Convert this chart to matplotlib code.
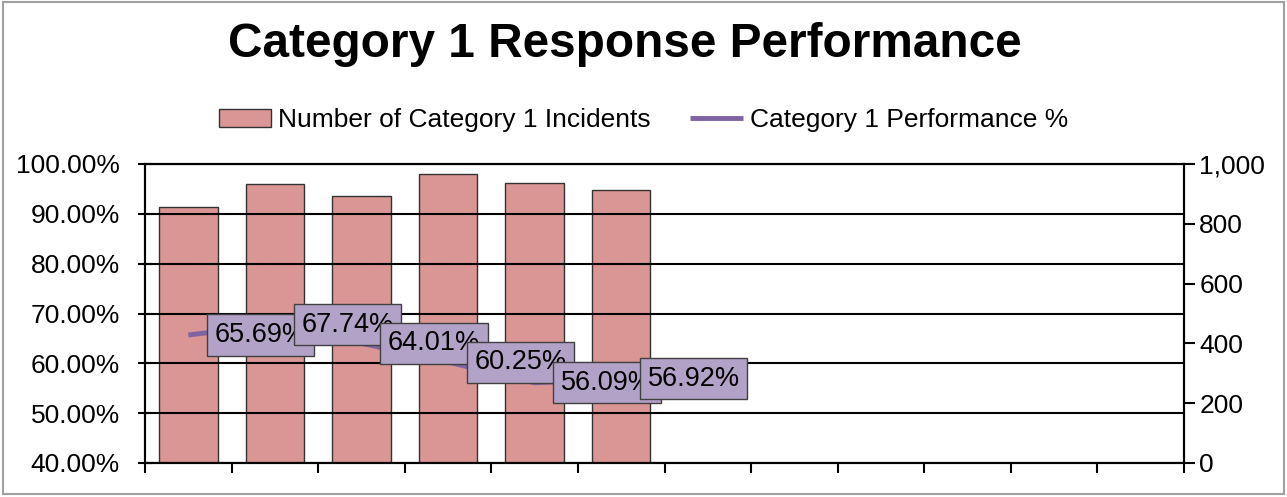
import matplotlib
matplotlib.use("Agg")
import matplotlib.pyplot as plt
from matplotlib.patches import Rectangle
from matplotlib.ticker import FuncFormatter, FixedLocator
import numpy as np

plt.rcParams['font.family'] = ['Liberation Sans', 'DejaVu Sans']

# ---- data ----
n_slots = 12
incidents = [855, 932, 894, 967, 937, 912]
performance = [65.69, 67.74, 64.01, 60.25, 56.09, 56.92]
perf_labels = ["65.69%", "67.74%", "64.01%", "60.25%", "56.09%", "56.92%"]
left_ticks = [40, 50, 60, 70, 80, 90, 100]
right_ticks = [0, 200, 400, 600, 800, 1000]
title = "Category 1 Response Performance"
bar_name = "Number of Category 1 Incidents"
line_name = "Category 1 Performance %"

W, H = 1287, 497
fig = plt.figure(figsize=(W / 100, H / 100), dpi=100)
ax = fig.add_axes([145 / W, 1 - 463 / H, (1184 - 145) / W, (463 - 164) / H])
ax2 = ax.twinx()

x = np.arange(len(incidents))
bar_color = '#D99694'
line_color = '#8064A2'

bars = ax.bar(x, incidents, width=0.676, color=bar_color, edgecolor='#333333',
              linewidth=1.0, zorder=1)
ax.set_xlim(-0.5, n_slots - 0.5)
ax.set_ylim(0, 1000)
ax.yaxis.tick_right()
ax.yaxis.set_major_locator(FixedLocator(right_ticks))
ax.yaxis.set_major_formatter(FuncFormatter(lambda v, p: f"{int(v):,}"))
ax.tick_params(axis='y', which='major', direction='out', length=8, width=1.5,
               labelsize=19, pad=3, right=True, left=False)
ax.set_xticks(np.arange(-0.5, n_slots, 1.0))
ax.set_xticklabels([])
ax.tick_params(axis='x', direction='out', length=7, width=1.5)

ax2.set_ylim(40, 100)
ax2.yaxis.tick_left()
ax2.yaxis.set_major_locator(FixedLocator(left_ticks))
ax2.yaxis.set_major_formatter(FuncFormatter(lambda v, p: f"{v:.2f}%"))
ax2.tick_params(axis='y', which='major', direction='inout', length=10, width=1.5,
                labelsize=19, pad=13, left=True, right=False)
ax2.grid(True, axis='y', color='black', linewidth=1.5, zorder=1.5)
ax2.set_axisbelow(True)

for a in (ax, ax2):
    for s in a.spines.values():
        s.set_color('black')
        s.set_linewidth(1.5)

line, = ax2.plot(x, performance, color=line_color, linewidth=3.5, zorder=3,
                 solid_capstyle='butt')

for xi, yi, lab in zip(x, performance, perf_labels):
    ax2.annotate(lab, (xi, yi), xytext=(19, 0), textcoords='offset points',
                 ha='left', va='center', fontsize=19.5, zorder=4,
                 bbox=dict(boxstyle='square,pad=0.28', facecolor='#B3A2C7',
                           edgecolor='#404040', linewidth=1.0))

fig.text(625 / W, 1 - 57 / H, title, ha='center', va='baseline',
         fontsize=34.4, fontweight='bold')

leg = fig.legend([bars, line], [bar_name, line_name], loc='center',
                 bbox_to_anchor=(0.5, 1 - 120 / H), ncol=2, frameon=False,
                 fontsize=19, handlelength=2.0, handleheight=0.65,
                 handletextpad=0.26, columnspacing=1.5)

fig.patches.append(Rectangle((3 / W, 3 / H), (1284 - 3) / W, (495 - 3) / H,
                             transform=fig.transFigure, fill=False,
                             edgecolor='#A0A0A0', linewidth=1.5))

fig.savefig('out.png', dpi=100)
